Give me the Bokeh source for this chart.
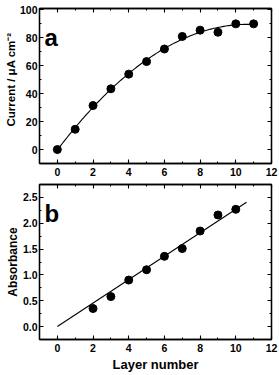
import numpy as np
from bokeh.plotting import figure
from bokeh.layouts import column
from bokeh.models import (LinearAxis, SingleIntervalTicker, Label, Range1d, Title,
                          NumeralTickFormatter, CustomLabelingPolicy)
from bokeh.embed import file_html
from bokeh.resources import INLINE

# ---- data ----
layers_a = [0, 1, 2, 3, 4, 5, 6, 7, 8, 9, 10, 11]
current = [0, 14.5, 31.5, 43.5, 54, 63, 72, 81, 85.5, 84, 90, 90]

layers_b = [2, 3, 4, 5, 6, 7, 8, 9, 10]
absorbance = [0.35, 0.58, 0.90, 1.10, 1.36, 1.51, 1.85, 2.16, 2.27]
fit_b_end = 10.6

FONT = "Liberation Sans"
BLACK = "#000000"

NO_LABELS = CustomLabelingPolicy(code="""
const all = Array.from(indices)
for (const i of all) indices.unset(i)
return indices
""")


def style(p):
    p.xgrid.visible = False
    p.ygrid.visible = False
    p.outline_line_color = BLACK
    p.outline_line_width = 1.3
    p.background_fill_color = "white"
    p.border_fill_color = "white"


def setup_axis(ax, interval, labels=True, fmt=None, standoff=4):
    ax.ticker = SingleIntervalTicker(interval=interval, num_minor_ticks=2)
    ax.major_tick_in = 4
    ax.major_tick_out = 0
    ax.minor_tick_in = 2
    ax.minor_tick_out = 0
    ax.axis_line_color = BLACK
    ax.axis_line_width = 1.3
    ax.major_tick_line_color = BLACK
    ax.minor_tick_line_color = BLACK
    ax.major_tick_line_width = 1.1
    ax.minor_tick_line_width = 1.1
    ax.major_label_text_font = FONT
    ax.major_label_text_font_style = "bold"
    ax.major_label_text_color = BLACK
    if labels:
        ax.major_label_text_font_size = "10.5px"
        ax.major_label_standoff = standoff
        if fmt is not None:
            ax.formatter = fmt
    else:
        ax.major_label_policy = NO_LABELS
        ax.major_label_text_font_size = "0px"
        ax.major_label_standoff = 0


def side_title(text, align, offset, size):
    return Title(text=text, text_font=FONT, text_font_style="bold", text_font_size=size,
                 text_color=BLACK, align=align, offset=offset, standoff=0)


# ---- panel a ----
p1 = figure(width=279, height=181, x_range=Range1d(-1, 12), y_range=Range1d(-10, 101),
            output_backend="svg", toolbar_location=None,
            min_border_left=39, min_border_right=8, min_border_top=8, min_border_bottom=18,
            x_axis_type=None, y_axis_type=None)
style(p1)
for loc, lab in [("below", True), ("above", False)]:
    ax = LinearAxis()
    setup_axis(ax, 2, lab)
    p1.add_layout(ax, loc)
for loc, lab in [("left", True), ("right", False)]:
    ax = LinearAxis()
    setup_axis(ax, 20, lab, standoff=2)
    p1.add_layout(ax, loc)
p1.add_layout(side_title("Current / μA cm⁻²", "left", 37, "11.5px"), "left")

coef = np.polyfit(layers_a, current, 2)
xs = np.linspace(min(layers_a), max(layers_a), 120)
p1.line(xs, np.polyval(coef, xs), line_color=BLACK, line_width=1.1)
p1.scatter(layers_a, current, size=8, marker="circle", fill_color=BLACK, line_color=BLACK)

p1.add_layout(Label(x=-0.72, y=80.5, text="a", text_font=FONT, text_font_style="bold",
                    text_font_size="24px", text_baseline="alphabetic", text_color=BLACK))

# ---- panel b ----
p2 = figure(width=279, height=194, x_range=Range1d(-1, 12), y_range=Range1d(-0.25, 2.75),
            output_backend="svg", toolbar_location=None,
            min_border_left=39, min_border_right=8, min_border_top=3, min_border_bottom=36,
            x_axis_type=None, y_axis_type=None)
style(p2)
axb = LinearAxis(axis_label="Layer number")
setup_axis(axb, 2, True)
axb.axis_label_text_font = FONT
axb.axis_label_text_font_style = "bold"
axb.axis_label_text_font_size = "13px"
axb.axis_label_standoff = 2
axb.axis_label_text_color = BLACK
p2.add_layout(axb, "below")
axt = LinearAxis()
setup_axis(axt, 2, False)
p2.add_layout(axt, "above")
axl = LinearAxis()
setup_axis(axl, 0.5, True, NumeralTickFormatter(format="0.0"), standoff=2)
p2.add_layout(axl, "left")
axr = LinearAxis()
setup_axis(axr, 0.5, False)
p2.add_layout(axr, "right")
p2.add_layout(side_title("Absorbance", "center", 0, "12px"), "left")

slope = float(np.dot(layers_b, absorbance) / np.dot(layers_b, layers_b))
fx = np.array([0.0, fit_b_end])
p2.line(fx, slope * fx, line_color=BLACK, line_width=1.1)
p2.scatter(layers_b, absorbance, size=8, marker="circle", fill_color=BLACK, line_color=BLACK)

p2.add_layout(Label(x=-0.72, y=2.19, text="b", text_font=FONT, text_font_style="bold",
                    text_font_size="24px", text_baseline="alphabetic", text_color=BLACK))

layout = column(p1, p2, spacing=0)
open("out.html", "w").write(file_html(layout, INLINE))
